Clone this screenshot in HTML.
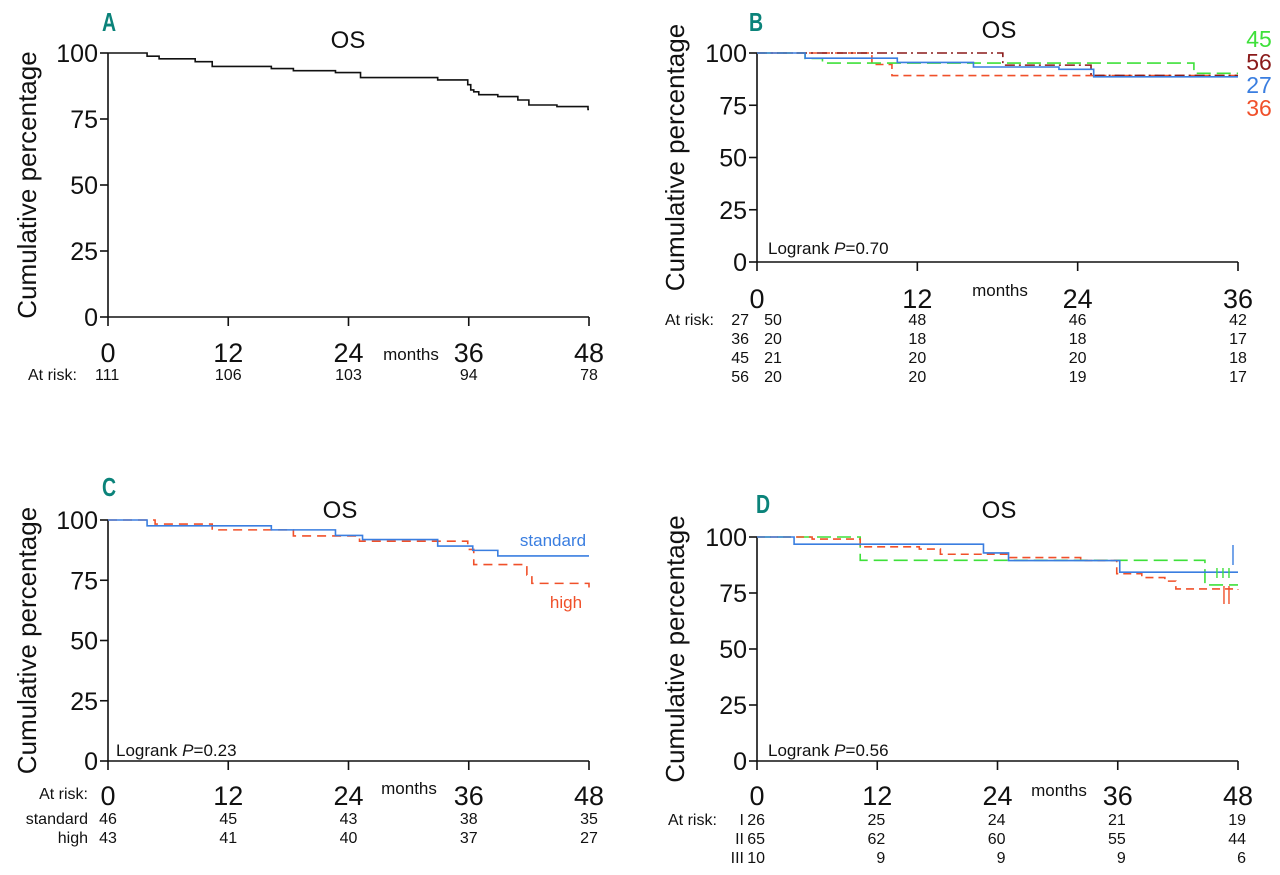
<!DOCTYPE html>
<html><head><meta charset="utf-8"><style>
html,body{margin:0;padding:0;background:#fff;}
svg text{font-family:"Liberation Sans",sans-serif;fill:#111;}
</style></head><body>
<svg id="fig" width="1280" height="870" viewBox="0 0 1280 870" xmlns="http://www.w3.org/2000/svg"></svg>
<script>
// ---- Data ----
const yTicks = [0, 25, 50, 75, 100];
const xTicks48 = [0, 12, 24, 36, 48];
const xTicks36 = [0, 12, 24, 36];
// Panel A
const aMonths = [0, 3.9, 5.1, 8.7, 10.4, 16.3, 18.5, 22.7, 25.2, 32.9, 35.9, 36.2, 36.5, 37, 38.9, 40.9, 42, 44.8, 47.9, 48];
const aSurv   = [100, 98.8, 97.8, 96.7, 94.9, 94.1, 93.3, 92.6, 90.7, 89.8, 88, 86, 85.3, 84.2, 83.5, 82.2, 80.3, 79.7, 78.6, 78.6];
const aRisk = ["111", "106", "103", "94", "78"];
// Panel B
const bGreenM = [0, 3.6, 4.9, 32.7, 36];
const bGreenS = [100, 97.4, 95.2, 90.3, 90.3];
const bBlueM = [0, 3.6, 10.5, 16.2, 22.6, 25.2, 36];
const bBlueS = [100, 97.5, 95.5, 93.3, 92.2, 88.6, 88.6];
const bRedM = [0, 18.4, 25, 36];
const bRedS = [100, 94.2, 89.3, 89.3];
const bOrangeM = [0, 8.6, 10.1, 36];
const bOrangeS = [100, 94.5, 89.2, 89.2];
const bRiskLabels = ["27", "36", "45", "56"];
const bRisk = [["50","48","46","42"],["20","18","18","17"],["21","20","20","18"],["20","20","19","17"]];
// Panel C
const cStdM = [0, 3.9, 16.3, 22.7, 25.4, 32.9, 36.4, 38.9, 48];
const cStdS = [100, 97.6, 95.9, 93.6, 91.9, 89.2, 87.4, 85.1, 85.1];
const cHighM = [0, 4.7, 10.4, 18.5, 25.1, 35.9, 36.5, 41.8, 42.3, 48];
const cHighS = [100, 98.3, 95.9, 93.4, 91.2, 87.8, 81.5, 77.2, 73.7, 72];
const cRiskLabels = ["standard", "high"];
const cRisk = [["46","45","43","38","35"],["43","41","40","37","27"]];
// Panel D
const dBlueM = [0, 3.7, 22.6, 25.1, 36.2, 48];
const dBlueS = [100, 96.8, 92.9, 89.5, 84.3, 84.3];
const dGreenM = [0, 10.3, 44.7, 48];
const dGreenS = [100, 89.6, 78.6, 78.6];
const dRedM = [0, 5.5, 10.3, 16.2, 18.3, 25.2, 32.3, 35.9, 38.4, 40.7, 41.8, 48];
const dRedS = [100, 99.1, 95.6, 94.6, 92.3, 90.8, 89.5, 83.6, 81.9, 80.3, 76.8, 76.5];
const dBlueCens = [47.5];
const dGreenCens = [45.9, 46.5, 47.1];
const dRedCens = [46.6, 47.1];
const dRiskLabels = ["I", "II", "III"];
const dRisk = [["26","25","24","21","19"],["65","62","60","55","44"],["10","9","9","9","6"]];

// ---- Helpers ----
const NS = "http://www.w3.org/2000/svg";
const svg = document.getElementById("fig");
function mk(tag, attrs, parent) {
  const e = document.createElementNS(NS, tag);
  for (const k in attrs) e.setAttribute(k, attrs[k]);
  (parent || svg).appendChild(e);
  return e;
}
function txt(s, x, y, size, anchor, parent, fill) {
  const t = mk("text", {x: x, y: y, "font-size": size, "text-anchor": anchor || "middle"}, parent);
  if (fill) t.setAttribute("style", "fill:" + fill);
  t.textContent = s;
  return t;
}
function makeAxes(x0, x1, y0, y100, xmax) {
  return {
    x: m => x0 + (m / xmax) * (x1 - x0),
    y: v => y0 - (v / 100) * (y0 - y100),
    x0: x0, x1: x1, y0: y0, y100: y100, xmax: xmax
  };
}
function stepPath(ax, ms, ss) {
  let d = "M" + ax.x(ms[0]) + "," + ax.y(ss[0]);
  for (let i = 1; i < ms.length; i++) {
    d += " H" + ax.x(ms[i]) + " V" + ax.y(ss[i]);
  }
  return d;
}
function drawFrame(g, ax, ticks, opts) {
  const axis = mk("path", {d: "M" + ax.x0 + "," + ax.y100 + " V" + ax.y0 + " H" + ax.x1, fill: "none", stroke: "#111", "stroke-width": 1.6}, g);
  
  
  yTicks.forEach(v => {
    mk("line", {x1: ax.x0 - 8, x2: ax.x0, y1: ax.y(v), y2: ax.y(v), stroke: "#111", "stroke-width": 1.6}, g);
    const t = txt(String(v), ax.x0 - 10, ax.y(v) + 9, 25, "end", g);
    
    
  });
  ticks.forEach(m => {
    mk("line", {x1: ax.x(m), x2: ax.x(m), y1: ax.y0, y2: ax.y0 + 9, stroke: "#111", "stroke-width": 1.6}, g);
    const t = txt(String(m), ax.x(m), opts.tickY, 27, "middle", g);
    
    
  });
  const mo = txt("months", opts.monthsX, opts.monthsY, 17, "middle", g);
  
  
  const yt = txt("Cumulative percentage", 0, 0, 26, "middle", g);
  yt.setAttribute("transform", "translate(" + opts.ytX + "," + ((ax.y0 + ax.y100) / 2) + ") rotate(-90)");
  
  
  const os = txt("OS", opts.osX, opts.osY, 24, "middle", g);
  
  
  const L = txt(opts.letter, opts.letterX, opts.letterY, 26, "start", g, "#0b837a");
  L.setAttribute("font-weight", "bold");
  L.setAttribute("transform", "translate(" + opts.letterX + "," + opts.letterY + ") scale(0.75,1) translate(" + (-opts.letterX) + "," + (-opts.letterY) + ")");
  
  
  if (opts.p) {
    const lg = mk("text", {x: opts.pX, y: opts.pY, "font-size": 17}, g);
    lg.innerHTML = 'Logrank <tspan font-style="italic">P</tspan>=' + opts.p;
    
    
  }
}
function drawCurve(g, ax, ms, ss, color, dash, name) {
  const p = mk("path", {d: stepPath(ax, ms, ss), fill: "none", stroke: color, "stroke-width": 1.6}, g);
  if (dash) p.setAttribute("stroke-dasharray", dash);
  
  
}
function drawCens(g, ax, ms, ss, cens, color, top, bot) {
  cens.forEach(m => {
    const l = mk("line", {x1: ax.x(m), x2: ax.x(m), y1: top, y2: bot, stroke: color, "stroke-width": 1.4}, g);
    
    
  });
}

// ---- Panel A ----
const gA = mk("g", {});


const axA = makeAxes(108, 589, 317, 53, 48);
drawFrame(gA, axA, xTicks48, {tickY: 362, monthsX: 411, monthsY: 360, ytX: 36, osX: 348, osY: 48, letter: "A", letterX: 102, letterY: 31});
drawCurve(gA, axA, aMonths, aSurv, "#111", null, "os-curve");
const arA = txt("At risk:", 28, 380, 16, "start", gA);


aRisk.forEach((v, i) => {
  const t = txt(v, i === 0 ? 95 : axA.x(xTicks48[i]), 380, 16, i === 0 ? "start" : "middle", gA);
  
  
});

// ---- Panel B ----
const gB = mk("g", {});


const axB = makeAxes(757, 1238, 262, 53, 36);
drawFrame(gB, axB, xTicks36, {tickY: 308, monthsX: 1000, monthsY: 296, ytX: 684, osX: 999, osY: 38, letter: "B", letterX: 749, letterY: 31, p: "0.70", pX: 768, pY: 254});
drawCurve(gB, axB, bOrangeM, bOrangeS, "#f0502a", "8,5", "curve-36");
drawCurve(gB, axB, bGreenM, bGreenS, "#3ee03a", "14,6", "curve-45");
drawCurve(gB, axB, bRedM, bRedS, "#8a1a1a", "10,4,2,4", "curve-56");
drawCurve(gB, axB, bBlueM, bBlueS, "#3a7ee0", null, "curve-27");
[["45", "#3ee03a", 47], ["56", "#8a1a1a", 70], ["27", "#3a7ee0", 93], ["36", "#f0502a", 116]].forEach(l => {
  const t = txt(l[0], 1259, l[2], 23, "middle", gB, l[1]);
  
  
});
const arB = txt("At risk:", 665, 325, 16, "start", gB);


bRiskLabels.forEach((lab, r) => {
  const yy = 325 + r * 19;
  const gl = txt(lab, 749, yy, 16, "end", gB);
  
  
  bRisk[r].forEach((v, i) => {
    const t = txt(v, i === 0 ? 773 : axB.x(xTicks36[i]), yy, 16, "middle", gB);
    
    
  });
});

// ---- Panel C ----
const gC = mk("g", {});


const axC = makeAxes(108, 589, 761, 520, 48);
drawFrame(gC, axC, xTicks48, {tickY: 805, monthsX: 409, monthsY: 794, ytX: 36, osX: 340, osY: 518, letter: "C", letterX: 102, letterY: 496, p: "0.23", pX: 116, pY: 756});
drawCurve(gC, axC, cHighM, cHighS, "#f0502a", "9,6", "curve-high");
drawCurve(gC, axC, cStdM, cStdS, "#3a7ee0", null, "curve-standard");
const ls = txt("standard", 553, 546, 17, "middle", gC, "#3a7ee0");


const lh = txt("high", 566, 608, 17, "middle", gC, "#f0502a");


const arC = txt("At risk:", 88, 799, 16, "end", gC);


cRiskLabels.forEach((lab, r) => {
  const yy = 824 + r * 19;
  const gl = txt(lab, 88, yy, 16, "end", gC);
  
  
  cRisk[r].forEach((v, i) => {
    const t = txt(v, axC.x(xTicks48[i]), yy, 16, "middle", gC);
    
    
  });
});

// ---- Panel D ----
const gD = mk("g", {});


const axD = makeAxes(757, 1238, 761, 537, 48);
drawFrame(gD, axD, xTicks48, {tickY: 805, monthsX: 1059, monthsY: 796, ytX: 684, osX: 999, osY: 518, letter: "D", letterX: 756, letterY: 513, p: "0.56", pX: 768, pY: 756});
drawCurve(gD, axD, dGreenM, dGreenS, "#3ee03a", "14,6", "curve-stage-iii");
drawCurve(gD, axD, dRedM, dRedS, "#f0502a", "8,5", "curve-stage-ii");
drawCurve(gD, axD, dBlueM, dBlueS, "#3a7ee0", null, "curve-stage-i");
drawCens(gD, axD, null, null, dBlueCens, "#3a7ee0", 545, 565);
drawCens(gD, axD, null, null, dGreenCens, "#3ee03a", 568, 578);
drawCens(gD, axD, null, null, dRedCens, "#f0502a", 586, 604);
const arD = txt("At risk:", 668, 825, 16, "start", gD);


dRiskLabels.forEach((lab, r) => {
  const yy = 825 + r * 19;
  const gl = txt(lab, 744, yy, 16, "end", gD);
  
  
  dRisk[r].forEach((v, i) => {
    const t = txt(v, axD.x(xTicks48[i]) + 8, yy, 16, "end", gD);
    
    
  });
});
</script>
</body></html>
